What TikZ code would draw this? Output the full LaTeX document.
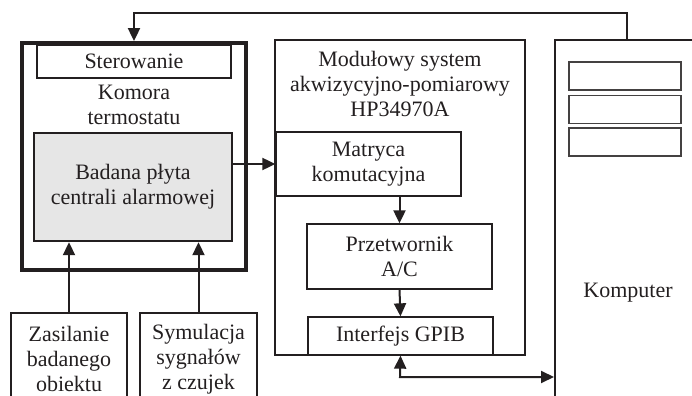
\documentclass[tikz,border=0pt]{standalone}
\usepackage{fontspec}
\setmainfont{Liberation Serif}
\usetikzlibrary{arrows.meta}
\definecolor{ink}{HTML}{231F20}
\definecolor{plyta}{HTML}{E6E6E6}

\begin{document}
\begin{tikzpicture}[x=0.5pt,y=-0.5pt,>={Triangle[length=6.5pt,width=6pt]},
	]

	\tikzset{blok/.style={
				draw=ink,rectangle,inner sep=0pt,line width=0.65pt,
				align=center,text=ink,
				font=\fontsize{11}{12.5}\selectfont}
	}
	\tikzset{gruby/.style={blok,line width=1pt}}
	\tikzset{napis/.style={
				inner sep=0pt,align=center,text=ink,
				font=\fontsize{11}{12.5}\selectfont}
	}
	\tikzset{linia/.style={draw=ink,line width=1pt,->}}

	\clip (0,0) rectangle (692,396);

	% komora termostatu
	\node[gruby,line width=2pt,minimum width=112pt,minimum height=113.5pt] (komora) at (134,156.5) {};
	\node[blok,minimum width=97pt,minimum height=16.5pt] (ster) at (134,61.5) {Sterowanie};
	\node[napis] (komoratxt) at (134,105) {Komora\\termostatu};
	\node[blok,line width=1.2pt,fill=plyta,minimum width=99pt,minimum height=54pt] (badana) at (133,187) {Badana płyta\\centrali alarmowej};

	% system pomiarowy
	\node[gruby,minimum width=125pt,minimum height=157.5pt] (modul) at (400,197.5) {};
	\node[napis] (modultxt) at (400,84) {Modułowy system\\akwizycyjno-pomiarowy\\HP34970A};
	\node[blok,minimum width=92.5pt,minimum height=32pt] (matryca) at (368.5,164) {Matryca\\komutacyjna};
	\node[blok,minimum width=92.5pt,minimum height=32.5pt] (przetw) at (399.5,256.5) {Przetwornik\\A/C};
	\node[blok,minimum width=92.5pt,minimum height=19pt] (interf) at (400.5,336) {Interfejs GPIB};

	% komputer
	\node[gruby,minimum width=82.5pt,minimum height=200pt] (komp) at (637.5,240) {};
	\foreach \k/\y in {1/76, 2/109.5, 3/142} {
			\node[blok,draw=ink!85,minimum width=56pt,minimum height=14pt] (ekran\k) at (625,\y) {};
		}
	\node[napis] (komptxt) at (628,293) {Komputer};

	% bloki dolne
	\node[gruby,minimum width=58pt,minimum height=63.5pt] (zasil) at (69,376.5) {};
	\node[napis] (zasiltxt) at (69,359) {Zasilanie\\badanego\\obiektu};
	\node[gruby,minimum width=58.5pt,minimum height=63.5pt] (symul) at (198.5,376.5) {};
	\node[napis] (symultxt) at (198.5,359) {Symulacja\\sygnałów\\z czujek};

	% polaczenia
	\coordinate (gora) at (627,13);
	\draw[linia,line width=1.2pt] (komp.north -| gora) -- (gora) -| (komora.north);
	\draw[linia] (badana.east |- matryca.west) -- (matryca.west);
	\draw[linia] (przetw.north |- matryca.south) -- (przetw.north);
	\draw[linia] (przetw.south) -- (interf.north);
	\draw[linia] (zasil.north) -- (zasil.north |- badana.south);
	\draw[linia] (symul.north) -- (symul.north |- badana.south);

	\coordinate (gpib) at (400,377);
	\draw[linia,<->] (interf.south) -- (gpib) -- (komp.west |- gpib);

\end{tikzpicture}
\end{document}
